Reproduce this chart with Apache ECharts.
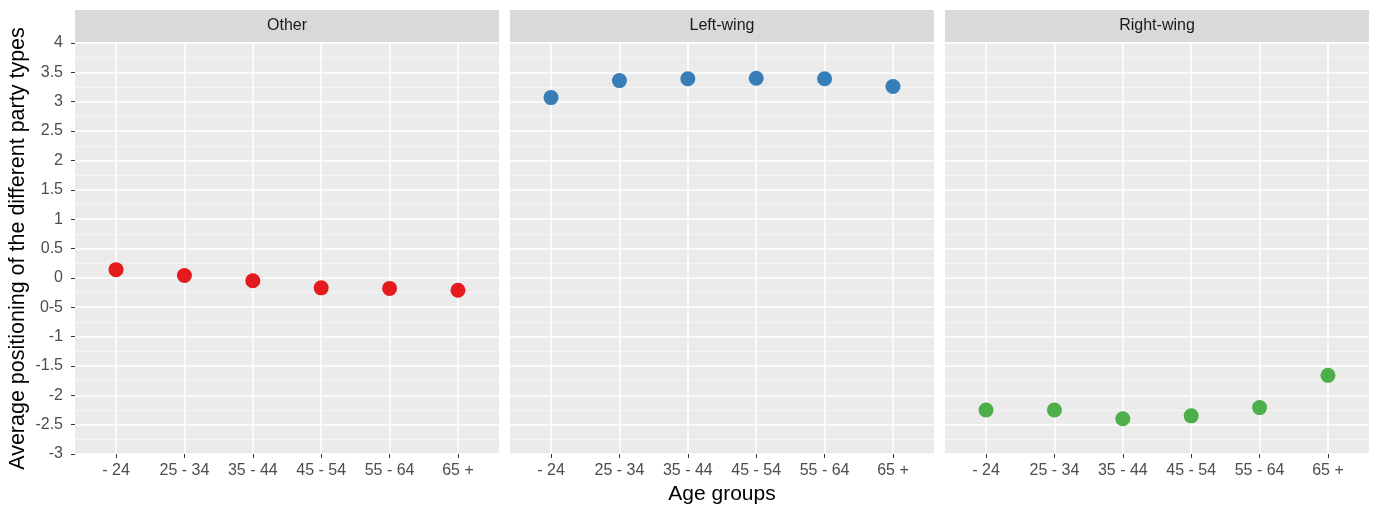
<!DOCTYPE html>
<html>
<head>
<meta charset="utf-8">
<script src="https://cdn.jsdelivr.net/npm/echarts@6/dist/echarts.min.js"></script>
<style>
html,body{margin:0;padding:0;background:#fff;}
#c{width:1376px;height:506px;}
</style>
</head>
<body>
<div id="c"></div>
<script>
// ---- data ----
var categories = ['- 24', '25 - 34', '35 - 44', '45 - 54', '55 - 64', '65 +'];
var panels = ['Other', 'Left-wing', 'Right-wing'];
var otherValues = [0.14, 0.04, -0.05, -0.17, -0.18, -0.21];
var leftValues = [3.07, 3.36, 3.39, 3.40, 3.39, 3.26];
var rightValues = [-2.25, -2.25, -2.40, -2.35, -2.21, -1.66];
var yTickLabels = ['-3', '-2.5', '-2', '-1.5', '-1', '0-5', '0', '0.5', '1', '1.5', '2', '2.5', '3', '3.5', '4'];
var colors = ['#E41A1C', '#377EB8', '#4DAF4A'];

var seriesValues = [otherValues, leftValues, rightValues];
var FONT = '"Liberation Sans", Arial, Helvetica, sans-serif';
var panelLeft = [75, 510, 945];
var panelWidth = 424;
var gridTop = 43, gridBottom = 52;

var chart = echarts.init(document.getElementById('c'));
var grids = [], xAxes = [], yAxes = [], series = [], graphics = [];
var catIdx = categories.map(function (c, i) { return i; });

for (var p = 0; p < 3; p++) {
  grids.push({
    left: panelLeft[p], width: panelWidth, top: gridTop, bottom: gridBottom,
    show: true, backgroundColor: '#EBEBEB', borderWidth: 0,
    containLabel: false, outerBoundsMode: 'none'
  });
  xAxes.push({
    type: 'value', gridIndex: p, min: -0.6, max: 5.6,
    axisLine: { show: false, onZero: false },
    axisTick: { show: true, length: 4, customValues: catIdx, lineStyle: { color: '#333333', width: 1 } },
    axisLabel: {
      show: true, customValues: catIdx, margin: 9, color: '#4D4D4D', fontSize: 16, fontFamily: FONT,
      formatter: function (v) { var i = Math.round(v); return Math.abs(v - i) < 1e-6 && categories[i] !== undefined ? categories[i] : ''; }
    },
    splitLine: { show: true, lineStyle: { color: '#FFFFFF', width: 1.5 } },
    name: p === 1 ? 'Age groups' : '',
    nameLocation: 'middle', nameGap: 28,
    nameTextStyle: { color: '#000000', fontSize: 21, fontFamily: FONT }
  });
  yAxes.push({
    type: 'value', gridIndex: p, min: -3, max: 4, interval: 0.5,
    axisLine: { show: false, onZero: false },
    axisTick: { show: p === 0, length: 4, lineStyle: { color: '#333333', width: 1 } },
    axisLabel: {
      show: p === 0, margin: 12, color: '#4D4D4D', fontSize: 16, fontFamily: FONT,
      formatter: function (v) { var i = Math.round((v + 3) / 0.5); return yTickLabels[i] !== undefined ? yTickLabels[i] : ''; }
    },
    splitLine: { show: true, lineStyle: { color: '#FFFFFF', width: 1.5 } },
    minorTick: { show: false, splitNumber: 2 },
    minorSplitLine: { show: true, lineStyle: { color: '#F7F7F7', width: 0.8 } },
    name: p === 0 ? 'Average positioning of the different party types' : '',
    nameLocation: 'middle', nameGap: 46, nameRotate: 90,
    nameTextStyle: { color: '#000000', fontSize: 21.5, fontFamily: FONT }
  });
  series.push({
    type: 'scatter', xAxisIndex: p, yAxisIndex: p,
    symbol: 'circle', symbolSize: 15,
    itemStyle: { color: colors[p], opacity: 1 },
    data: seriesValues[p].map(function (v, i) { return [i, v]; }),
    silent: true, z: 5
  });
  graphics.push({
    type: 'rect', left: panelLeft[p], top: 10,
    shape: { width: panelWidth, height: 32 },
    style: { fill: '#D9D9D9' }, silent: true
  });
  graphics.push({
    type: 'text', x: panelLeft[p] + panelWidth / 2, y: 26,
    style: { text: panels[p], fill: '#1A1A1A', fontSize: 16, fontFamily: FONT, align: 'center', verticalAlign: 'middle' },
    silent: true
  });
}

chart.setOption({
  animation: false,
  backgroundColor: '#FFFFFF',
  grid: grids,
  xAxis: xAxes,
  yAxis: yAxes,
  series: series,
  graphic: graphics
});
</script>
</body>
</html>
